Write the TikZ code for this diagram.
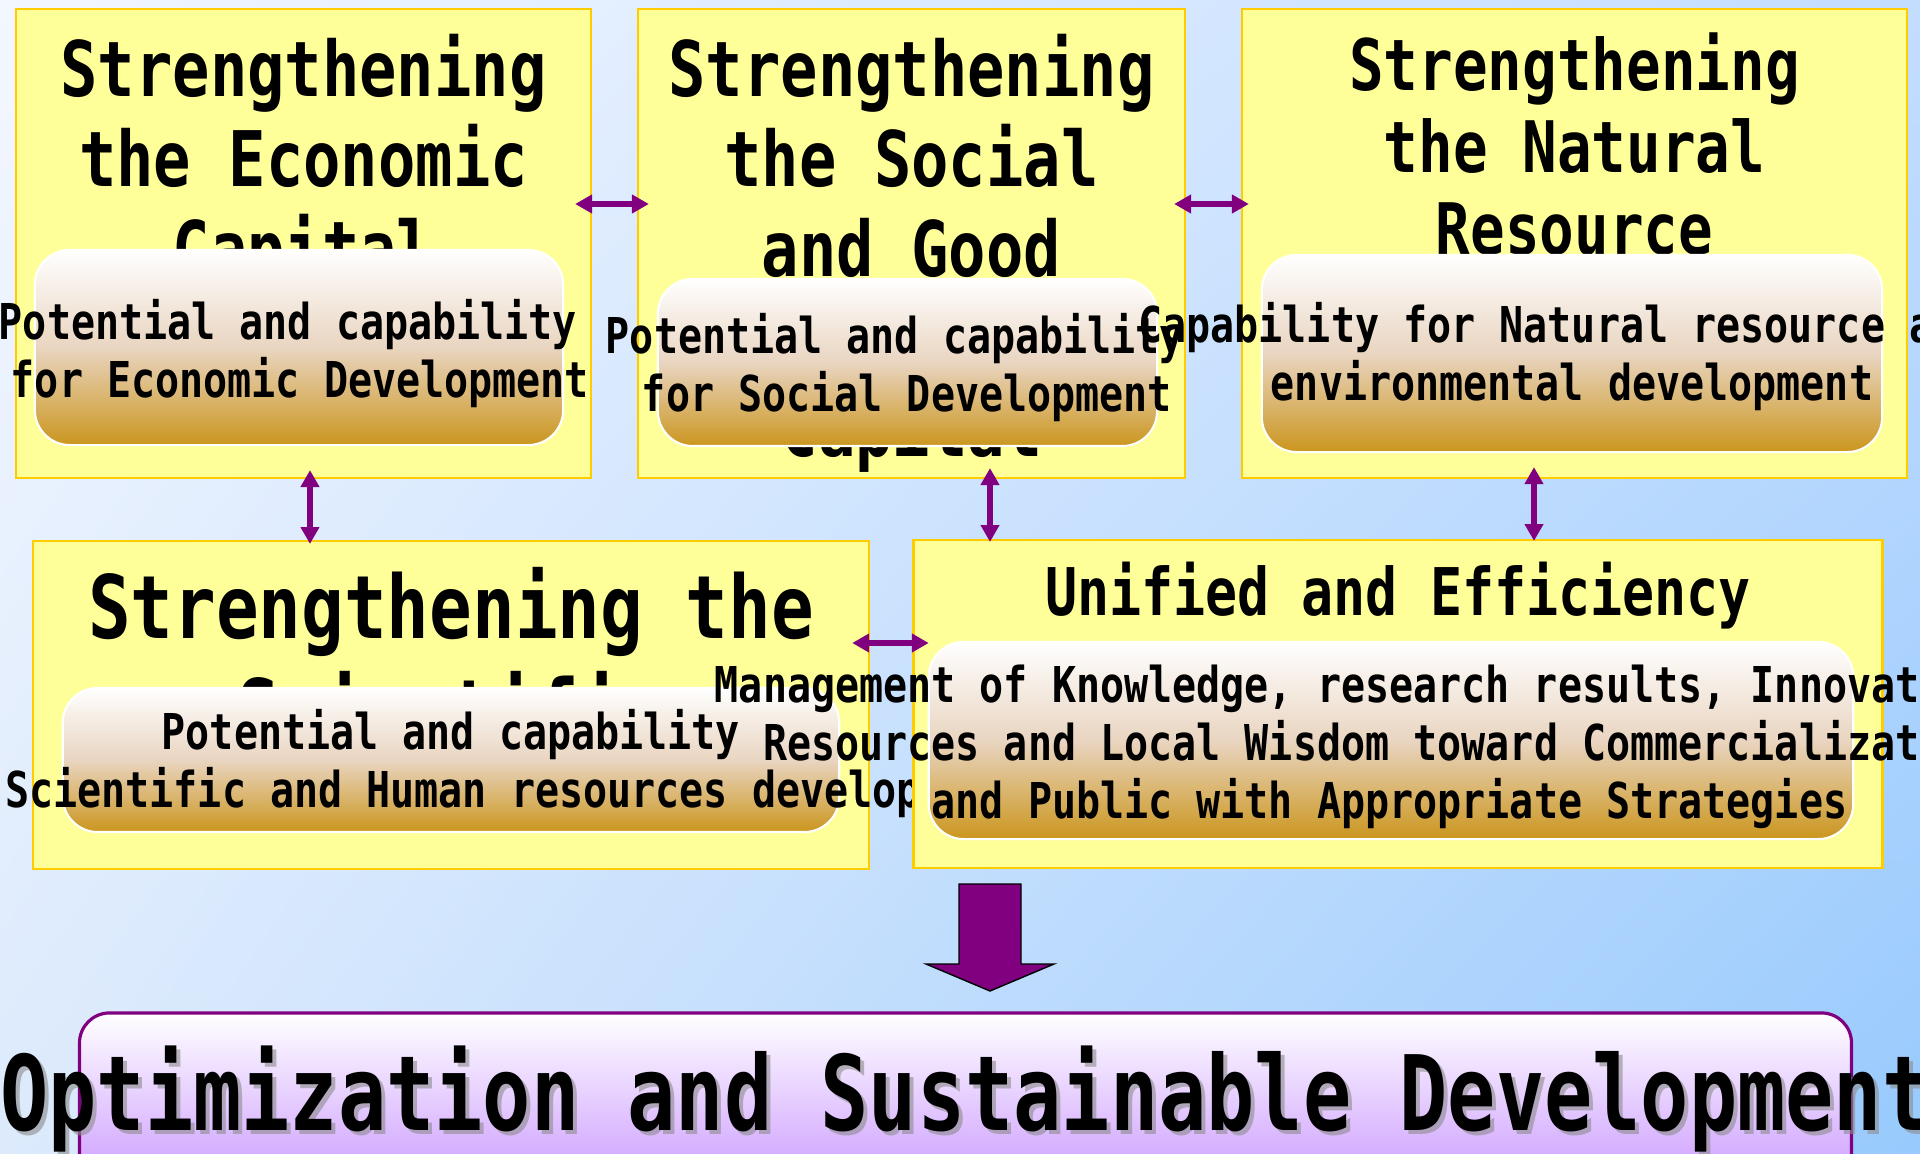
\documentclass[tikz,border=0pt]{standalone}
\usepackage{fontspec}
\usetikzlibrary{arrows.meta,shadings}
\newfontfamily\gothic{DejaVu Sans Mono}[FakeStretch=0.81]
\newfontfamily\gothictall{DejaVu Sans Mono}[FakeStretch=0.77]
\newcommand{\gothicsize}[2]{\gothic\bfseries\fontsize{#1}{#2}\selectfont}

\definecolor{capfill}{HTML}{FFFF99}
\definecolor{capline}{HTML}{FFCC00}
\definecolor{linkcol}{HTML}{800080}
\definecolor{goldbot}{HTML}{CB961E}
\definecolor{goldmid}{HTML}{E9D5C1}
\definecolor{lilac}{HTML}{C893FF}
\definecolor{bgul}{HTML}{F3F7FF}
\definecolor{bgur}{HTML}{C3DDFF}
\definecolor{bgll}{HTML}{DCEAFC}
\definecolor{bglr}{HTML}{98CAFD}

\tikzset{
  capbox/.style={draw=capline, fill=capfill, line width=0.7pt, inner sep=0pt, outer sep=0pt},
  ability/.style={draw=white, line width=0.6pt, rounded corners=0.35cm,
    top color=white, bottom color=goldbot, middle color=goldmid, inner sep=0pt},
  headtxt/.style={anchor=north, align=center, inner sep=0pt},
  bodytxt/.style={anchor=north, align=center, inner sep=0pt, font=\gothicsize{14.05pt}{16.5pt}},
  link/.style={draw=linkcol, line width=1.7pt,
    {Triangle[length=4.8pt,width=5.1pt]}-{Triangle[length=4.8pt,width=5.1pt]}},
  goalbox/.style={draw=linkcol, line width=0.9pt, rounded corners=0.3cm,
    top color=white, bottom color=lilac, inner sep=0pt},
  goaltext/.style={anchor=north, inner sep=0pt, font=\gothictall\bfseries\fontsize{29.6pt}{34pt}\selectfont}
}

\begin{document}
\begin{tikzpicture}[x=0.01cm, y=-0.01cm]
\useasboundingbox (0,0) rectangle (1920,1154);
\shade[upper left=bgul, upper right=bgur, lower left=bgll, lower right=bglr] (0,0) rectangle (1920,1154);

% economic capital
\node[capbox, minimum width=5.75cm, minimum height=4.69cm] (econ) at (303.5,243.5) {};
\node[headtxt, font=\gothicsize{21.8pt}{25.6pt}] (econhead) at (303.5,33) {Strengthening\\the Economic\\Capital};
\node[ability, minimum width=5.28cm, minimum height=1.95cm] (econbox) at (299,347.5) {};
\node[bodytxt] (econtxt) at (300,299) {Potential and capability\hphantom{x}\\for Economic Development};

% social capital
\node[capbox, minimum width=5.47cm, minimum height=4.69cm] (social) at (911.5,243.5) {};
\node[headtxt, font=\gothicsize{21.8pt}{25.6pt}] (socialhead) at (911.5,33) {Strengthening\\the Social\\and Good\\[25.6pt]Capital};
\node[ability, minimum width=4.99cm, minimum height=1.67cm] (socialbox) at (907.5,362.5) {};
\node[bodytxt] (socialtxt) at (907,313) {Potential and capability\hphantom{x}\\for Social Development};

% natural resource
\node[capbox, minimum width=6.65cm, minimum height=4.69cm] (natural) at (1574.5,243.5) {};
\node[headtxt, font=\gothicsize{20.2pt}{23.3pt}] (naturalhead) at (1574.5,32) {Strengthening\\the Natural\\Resource};
\node[ability, minimum width=6.2cm, minimum height=1.97cm] (naturalbox) at (1572,353.5) {};
\node[bodytxt] (naturaltxt) at (1572,302) {Capability for Natural resource and\hphantom{x}\\environmental development};

% scientific
\node[capbox, minimum width=8.36cm, minimum height=3.28cm] (sci) at (451,705) {};
\node[headtxt, font=\gothicsize{24.9pt}{29.6pt}] (scihead) at (451,567) {Strengthening the\\Scientific};
\node[ability, minimum width=7.76cm, minimum height=1.44cm] (scibox) at (451,760) {};
\node[bodytxt] (scitxt) at (463,709) {Potential and capability\hphantom{x}\\for Scientific and Human resources development};

% unified management
\node[capbox, minimum width=9.68cm, minimum height=3.28cm] (unified) at (1398,704) {};
\node[headtxt, font=\gothicsize{18.7pt}{21.5pt}] (unifiedhead) at (1398,561) {Unified and Efficiency};
\node[ability, minimum width=9.24cm, minimum height=1.97cm] (unifiedbox) at (1391,740.5) {};
\node[bodytxt] (unifiedtxt) at (1389.5,662) {Management of Knowledge, research results, Innovation\hphantom{xxx}\\Resources and Local Wisdom toward Commercialization\hphantom{x}\\and Public with Appropriate Strategies};

% links
\draw[link] ([shift={(-16,-39.5)}]econ.east) -- ([shift={(11,-39.5)}]social.west);
\draw[link] ([shift={(-11,-39.5)}]social.east) -- ([shift={(7,-39.5)}]natural.west);
\draw[link] ([shift={(6.5,-8)}]econ.south) -- ([shift={(-141,3)}]sci.north);
\draw[link] ([shift={(78.5,-10)}]social.south) -- ([shift={(-408,2)}]unified.north);
\draw[link] ([shift={(-40.5,-11)}]natural.south) -- ([shift={(136,1)}]unified.north);
\draw[link] ([shift={(-17,-62)}]sci.east) -- ([shift={(15,-61)}]unified.west);

% big arrow
\filldraw[fill=linkcol, draw=black, line width=0.4pt] (959,884) -- (1021,884) -- (1021,964) -- (1054,964)
  -- (990,991) -- (926,964) -- (959,964) -- cycle;

% goal
\node[goalbox, minimum width=17.71cm, minimum height=1.87cm] (goal) at (965.5,1106.5) {};
\node[goaltext, text=black!45, opacity=0.6] (goalshade) at (969.5,1049) {Optimization and Sustainable Development};
\node[goaltext] (goaltxt) at (965.5,1045) {Optimization and Sustainable Development};
\end{tikzpicture}
\end{document}
